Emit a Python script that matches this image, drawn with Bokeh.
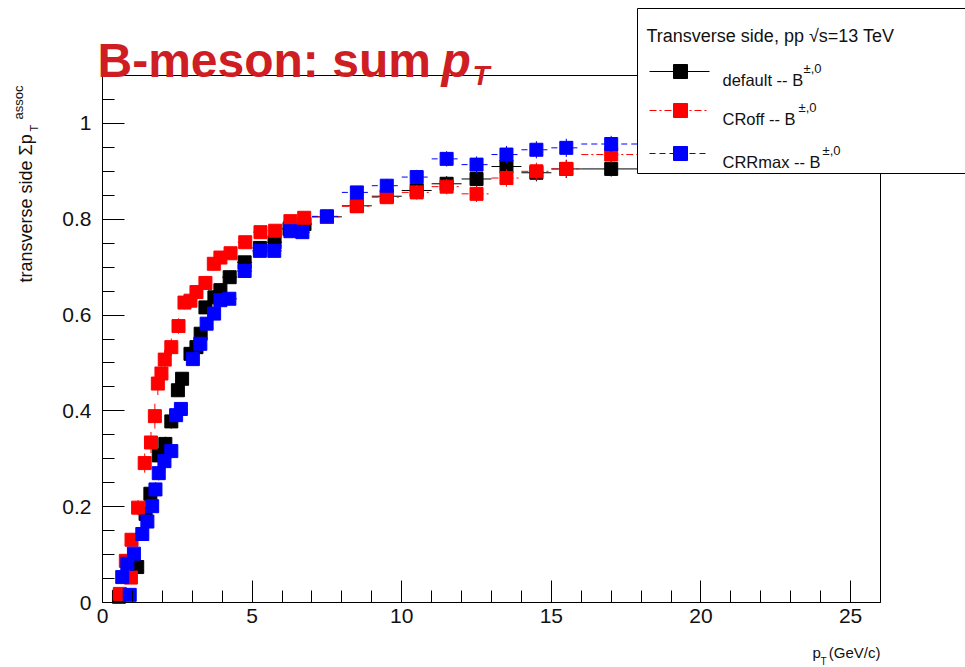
import numpy as np
from bokeh.plotting import figure
from bokeh.models import (Range1d, FixedTicker, CustomJSTickFormatter, Label,
                          BoxAnnotation, Arrow, ColumnDataSource, LinearAxis)
from bokeh.embed import file_html
from bokeh.resources import INLINE

# ---------------- data ----------------
default_x = [0.55, 1.16, 1.44, 1.60, 1.88, 2.10, 2.30, 2.52, 2.66, 2.94, 3.14, 3.28, 3.44, 3.74, 3.94,
             4.25, 4.75, 5.26, 5.75, 6.25, 6.75,
             7.5, 8.5, 9.5, 10.5, 11.5, 12.5, 13.5, 14.5, 15.5, 17.0]
default_y = [0.012, 0.074, 0.185, 0.227, 0.307, 0.331, 0.378, 0.443, 0.467, 0.519, 0.533, 0.561, 0.616, 0.637, 0.652,
             0.679, 0.710, 0.740, 0.752, 0.780, 0.790,
             0.805, 0.828, 0.848, 0.860, 0.874, 0.884, 0.910, 0.897, 0.905, 0.905]
default_xerr = [0.1, 0.1, 0.1, 0.1, 0.1, 0.1, 0.1, 0.1, 0.1, 0.1, 0.1, 0.1, 0.1, 0.1, 0.1,
                0.25, 0.25, 0.25, 0.25, 0.25, 0.25,
                0.5, 0.5, 0.5, 0.5, 0.5, 0.5, 0.5, 0.5, 0.5, 1.0]
default_yerr = [0.010, 0.012, 0.013, 0.014, 0.015, 0.015, 0.015, 0.014, 0.014, 0.013, 0.013, 0.013, 0.012, 0.012, 0.012,
                0.011, 0.011, 0.011, 0.011, 0.012, 0.012,
                0.012, 0.013, 0.014, 0.015, 0.016, 0.017, 0.018, 0.018, 0.019, 0.016]

croff_x = [0.58, 0.78, 0.95, 0.97, 1.19, 1.41, 1.62, 1.75, 1.85, 1.97, 2.08, 2.30, 2.54, 2.74, 2.94, 3.14, 3.44, 3.72, 3.94,
           4.28, 4.77, 5.28, 5.77, 6.28, 6.74,
           7.5, 8.5, 9.5, 10.5, 11.5, 12.5, 13.5, 14.5, 15.5, 17.0]
croff_y = [0.018, 0.087, 0.052, 0.131, 0.198, 0.291, 0.334, 0.389, 0.457, 0.478, 0.507, 0.533, 0.577, 0.626, 0.630, 0.648, 0.667, 0.707, 0.720,
           0.729, 0.752, 0.773, 0.776, 0.796, 0.803,
           0.805, 0.827, 0.846, 0.856, 0.868, 0.853, 0.886, 0.900, 0.905, 0.935]
croff_xerr = [0.1, 0.1, 0.1, 0.1, 0.1, 0.1, 0.1, 0.1, 0.1, 0.1, 0.1, 0.1, 0.1, 0.1, 0.1, 0.1, 0.1, 0.1, 0.1,
              0.25, 0.25, 0.25, 0.25, 0.25, 0.25,
              0.5, 0.5, 0.5, 0.5, 0.5, 0.5, 0.5, 0.5, 0.5, 1.0]
croff_yerr = [0.010, 0.012, 0.012, 0.014, 0.016, 0.020, 0.022, 0.026, 0.024, 0.022, 0.020, 0.018, 0.016, 0.014, 0.014, 0.013, 0.013, 0.012, 0.012,
              0.011, 0.011, 0.011, 0.011, 0.012, 0.012,
              0.012, 0.013, 0.014, 0.015, 0.016, 0.017, 0.018, 0.018, 0.019, 0.017]

crrmax_x = [0.66, 0.83, 0.91, 1.05, 1.33, 1.50, 1.66, 1.77, 1.88, 2.07, 2.30, 2.46, 2.62, 3.02, 3.27, 3.48, 3.73, 3.94,
            4.24, 4.75, 5.26, 5.74, 6.28, 6.68,
            7.5, 8.5, 9.5, 10.5, 11.5, 12.5, 13.5, 14.5, 15.5, 17.0]
crrmax_y = [0.053, 0.081, 0.016, 0.102, 0.143, 0.169, 0.201, 0.236, 0.270, 0.295, 0.316, 0.391, 0.404, 0.508, 0.540, 0.582, 0.603, 0.631,
            0.634, 0.692, 0.734, 0.734, 0.775, 0.773,
            0.806, 0.856, 0.870, 0.888, 0.926, 0.914, 0.935, 0.945, 0.949, 0.957]
crrmax_xerr = [0.1, 0.1, 0.1, 0.1, 0.1, 0.1, 0.1, 0.1, 0.1, 0.1, 0.1, 0.1, 0.1, 0.1, 0.1, 0.1, 0.1, 0.1,
               0.25, 0.25, 0.25, 0.25, 0.25, 0.25,
               0.5, 0.5, 0.5, 0.5, 0.5, 0.5, 0.5, 0.5, 0.5, 1.0]
crrmax_yerr = [0.010, 0.011, 0.010, 0.012, 0.013, 0.014, 0.014, 0.015, 0.015, 0.015, 0.015, 0.014, 0.014, 0.013, 0.013, 0.013, 0.012, 0.012,
               0.011, 0.011, 0.011, 0.011, 0.012, 0.012,
               0.012, 0.013, 0.014, 0.015, 0.016, 0.017, 0.018, 0.018, 0.019, 0.017]

x_ticks = [0, 5, 10, 15, 20, 25]
y_ticks = [0, 0.2, 0.4, 0.6, 0.8, 1.0]
series_names = ["default -- B", "CRoff -- B", "CRRmax -- B"]
legend_title = "Transverse side, pp \u221as=13 TeV"

# ---------------- layout ----------------
W, H = 965, 667
FL, FR, FT, FB = 102, 880, 75, 602          # pixel box of the data frame
XMIN, XMAX, YMIN, YMAX = 0.0, 26.0, 0.0, 1.1
FONT = "Liberation Sans"
RED_TITLE = "#cf1d24"
TXT = "#111111"

SX = (FR - FL) / (XMAX - XMIN)
SY = (FB - FT) / (YMAX - YMIN)


def dx(px):
    return XMIN + (px - FL) / SX


def dy(py):
    return YMIN + (FB - py) / SY


# the bokeh frame covers the whole canvas; axes are pinned at the data frame edges
p = figure(width=W, height=H, output_backend="svg", toolbar_location=None,
           x_range=Range1d(dx(0), dx(W)), y_range=Range1d(dy(H), dy(0)),
           min_border=0, min_border_left=0, min_border_right=0,
           min_border_top=0, min_border_bottom=0,
           title_location=None)
p.background_fill_color = "white"
p.border_fill_color = "white"
p.outline_line_color = None
p.xgrid.visible = False
p.ygrid.visible = False

minor_x = [v for v in range(0, 27) if v % 5 != 0]
minor_y = [round(0.05 * k, 2) for k in range(0, 23) if k % 4 != 0]

xa = p.xaxis[0]
ya = p.yaxis[0]
xa.ticker = FixedTicker(ticks=x_ticks, minor_ticks=minor_x)
ya.ticker = FixedTicker(ticks=y_ticks, minor_ticks=minor_y)
ya.formatter = CustomJSTickFormatter(code="return String(tick);")
xa.fixed_location = YMIN
ya.fixed_location = XMIN
xa.bounds = (XMIN, XMAX)
ya.bounds = (YMIN, YMAX)

for ax in (xa, ya):
    ax.axis_line_color = "black"
    ax.axis_line_width = 1
    ax.major_tick_in = 22
    ax.major_tick_out = 0
    ax.minor_tick_in = 12
    ax.minor_tick_out = 0
    ax.major_tick_line_color = "black"
    ax.minor_tick_line_color = "black"
    ax.major_label_text_font = FONT
    ax.major_label_text_font_size = "21px"
    ax.major_label_text_color = TXT
ya.major_label_standoff = 11
xa.major_label_standoff = 6

# top and right frame edges (plain axes without ticks)
top_ax = LinearAxis(fixed_location=YMAX, bounds=(XMIN, XMAX), ticker=FixedTicker(ticks=[]),
                    major_tick_line_color=None, minor_tick_line_color=None,
                    major_label_text_font_size="0px", axis_line_color="black")
right_ax = LinearAxis(fixed_location=XMAX, bounds=(YMIN, YMAX), ticker=FixedTicker(ticks=[]),
                      major_tick_line_color=None, minor_tick_line_color=None,
                      major_label_text_font_size="0px", axis_line_color="black")
p.add_layout(top_ax, "above")
p.add_layout(right_ax, "right")


def draw(xs, ys, xe, ye, color, dash):
    xs = np.array(xs); ys = np.array(ys); xe = np.array(xe); ye = np.array(ye)
    src = ColumnDataSource(dict(x=xs, y=ys, x0=xs - xe, x1=xs + xe, y0=ys - ye, y1=ys + ye))
    p.segment(x0="x0", y0="y", x1="x1", y1="y", source=src, line_color=color,
              line_width=1, line_dash=dash)
    p.segment(x0="x", y0="y0", x1="x", y1="y1", source=src, line_color=color, line_width=1)
    p.scatter(x="x", y="y", source=src, marker="square", size=13,
              fill_color=color, line_color=color, line_width=1)


styles = [("#000000", "solid"), ("#ff0000", "7 3 2 3"), ("#0000ff", "6 4")]
draw(default_x, default_y, default_xerr, default_yerr, *styles[0])
draw(croff_x, croff_y, croff_xerr, croff_yerr, *styles[1])
draw(crrmax_x, crrmax_y, crrmax_xerr, crrmax_yerr, *styles[2])


def lab(px, py, text, size, color=TXT, style="normal", align="left", angle=0.0):
    p.add_layout(Label(x=dx(px), y=dy(py), text=text, text_font=FONT,
                       text_font_style=style, text_font_size=size, text_color=color,
                       text_baseline="alphabetic", text_align=align, angle=angle))


# ---------------- title ----------------
lab(97, 60, "B-meson: sum ", "48px", RED_TITLE, "bold")
lab(441, 60, "p", "48px", RED_TITLE, "bold italic")
lab(472, 75, "T", "28px", RED_TITLE, "bold italic")

# ---------------- axis titles ----------------
ang = np.pi / 2
lab(25, 282, "transverse side \u03a3p", "18px", angle=ang)
lab(33, 131, "T", "11px", angle=ang)
lab(18, 119, "assoc", "13px", angle=ang)

lab(880, 652, "(GeV/c)", "15px", align="right")
lab(812, 652, "p", "15px")
lab(820, 661, "T", "10px")

# ---------------- legend ----------------
p.add_layout(BoxAnnotation(left=dx(637), right=dx(1000), top=dy(8), bottom=dy(173),
                           fill_color="white", fill_alpha=1.0, line_color="black",
                           line_width=1, line_alpha=1.0))
lab(646, 35, legend_title, "18px")
row_y = [71, 110, 153]
sup_x = [803, 798, 822]
for name, (col, dash), ry, sxp in zip(series_names, styles, row_y, sup_x):
    p.add_layout(Arrow(end=None, x_start=dx(649), y_start=dy(ry), x_end=dx(709), y_end=dy(ry),
                       line_color=col, line_width=1, line_dash=dash))
    p.add_layout(BoxAnnotation(left=dx(673), right=dx(687), top=dy(ry - 7), bottom=dy(ry + 7),
                               fill_color=col, fill_alpha=1.0, line_color=col, line_alpha=1.0))
    lab(722, ry + 8, name, "16.5px")
    lab(sxp, ry - 3, "\u00b1,0", "13px")

open("out.html", "w").write(file_html(p, INLINE))
